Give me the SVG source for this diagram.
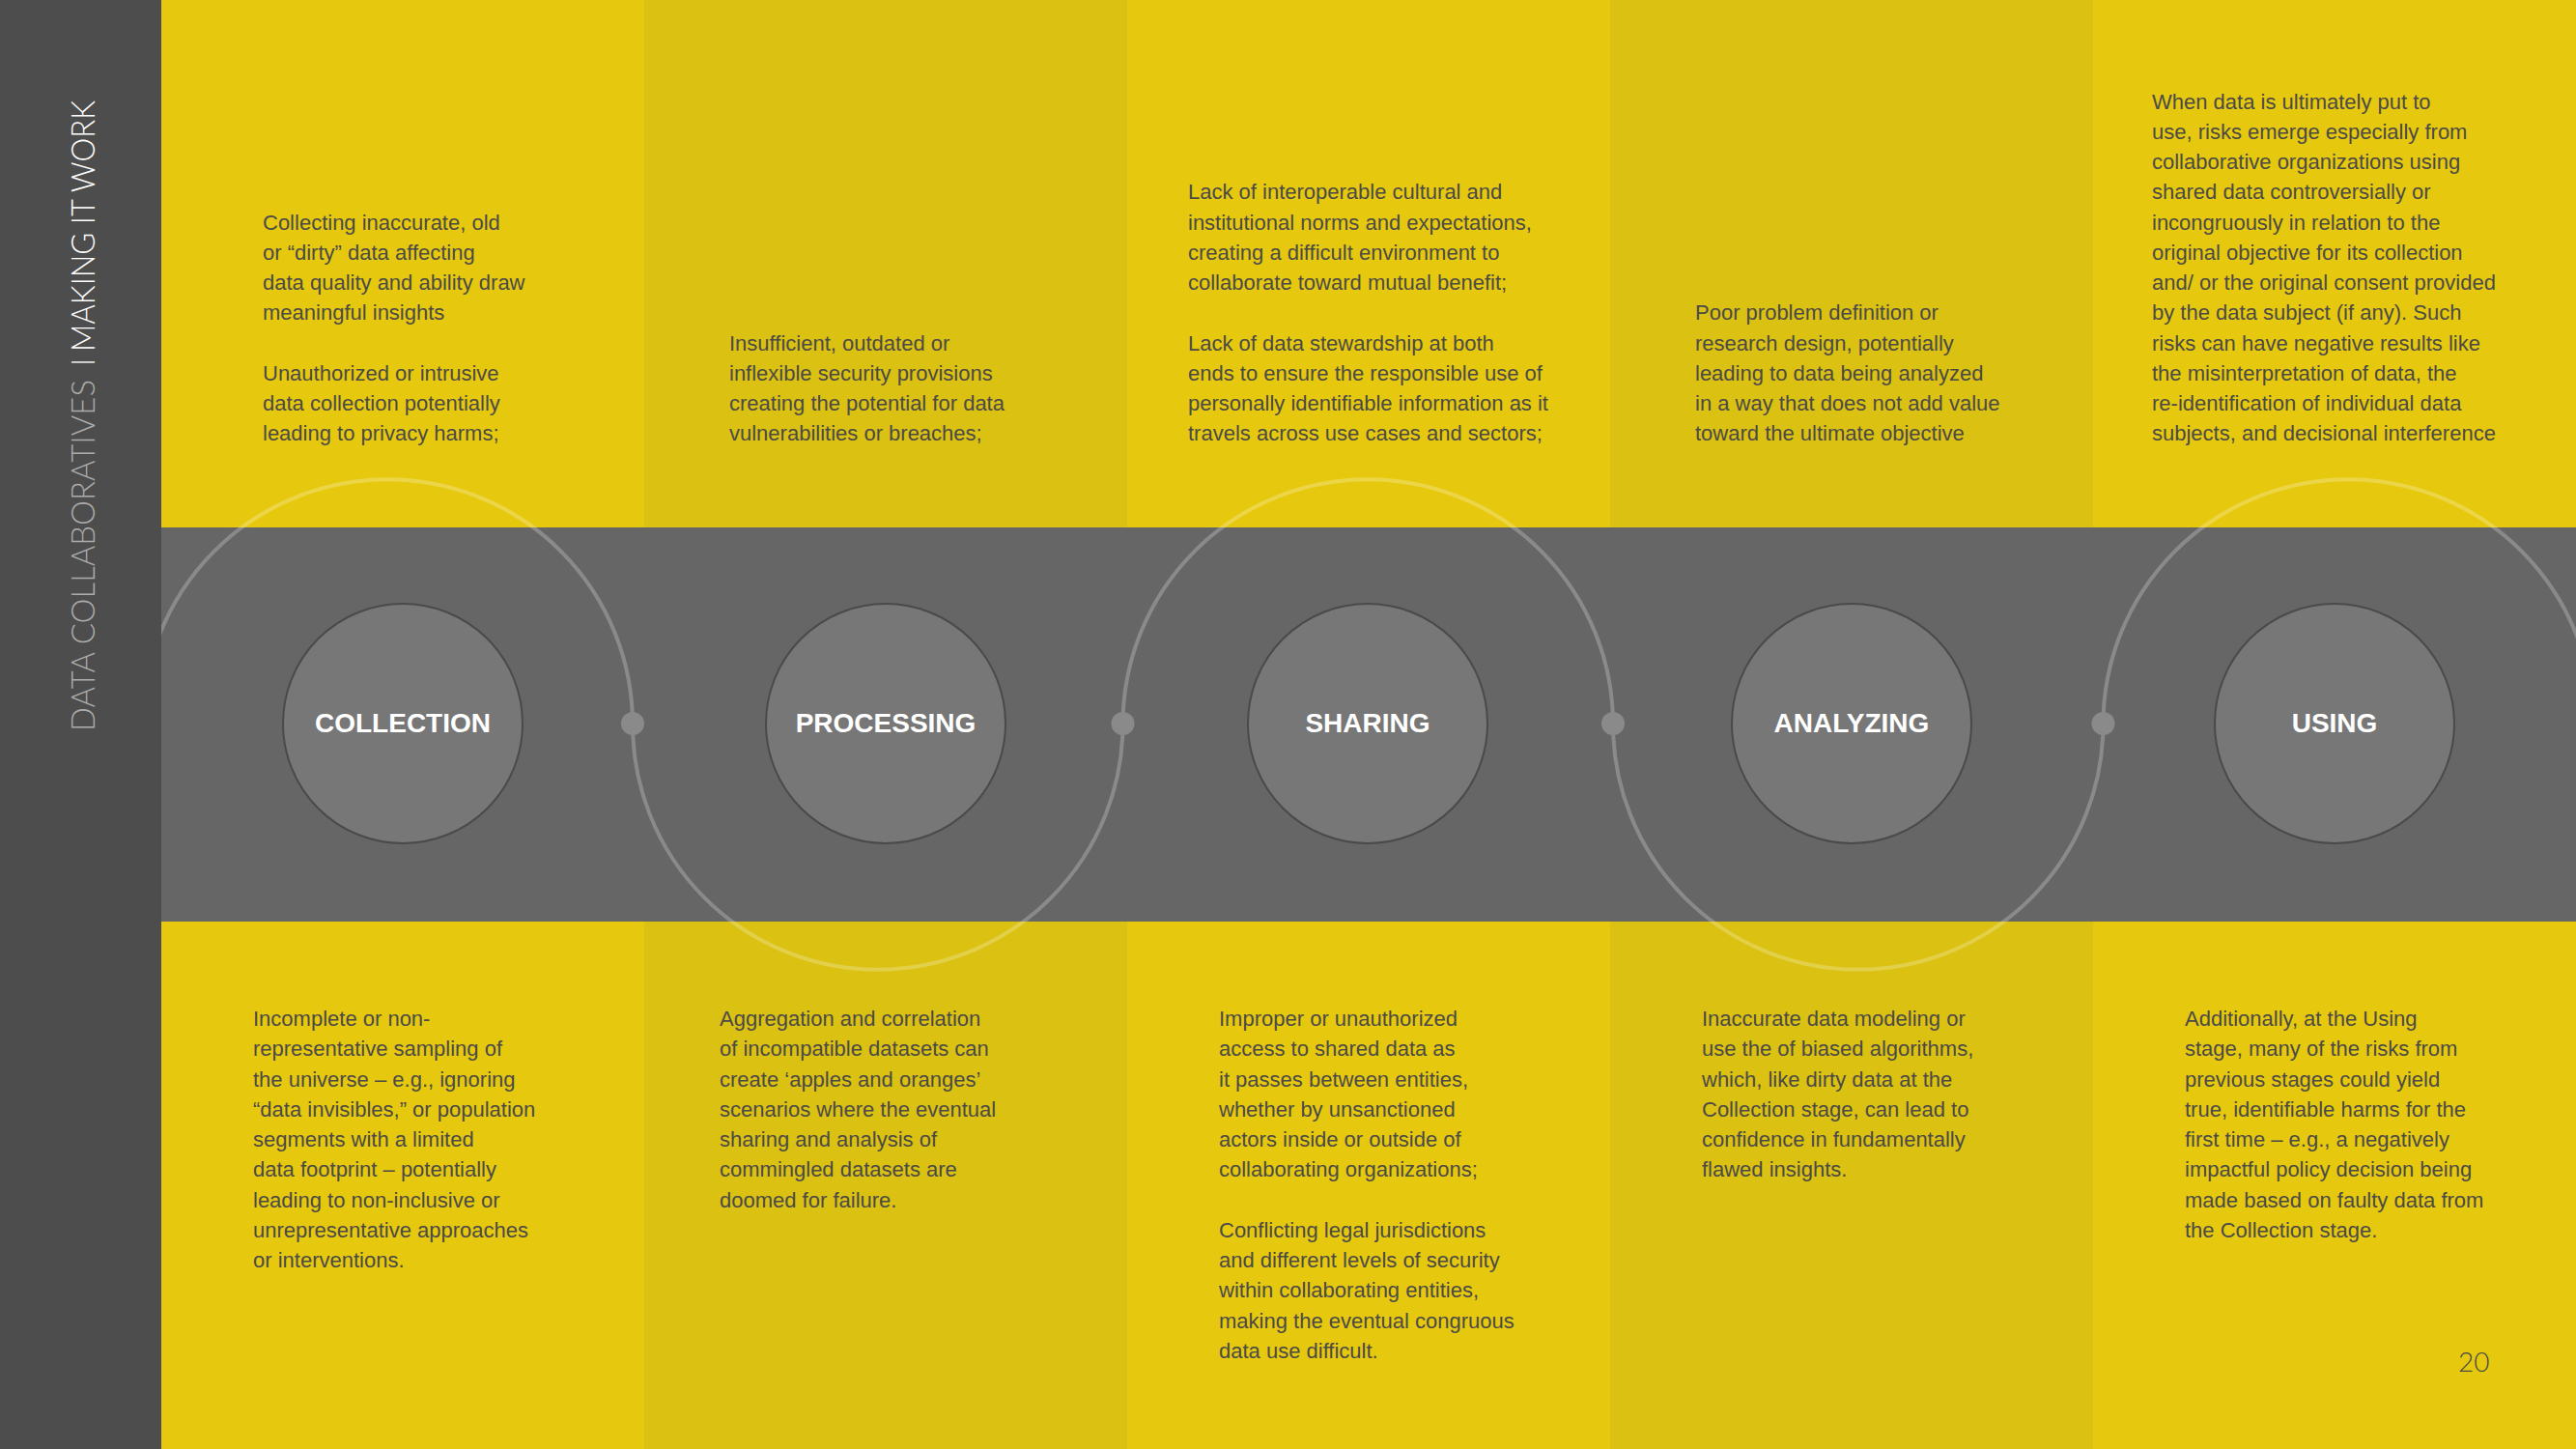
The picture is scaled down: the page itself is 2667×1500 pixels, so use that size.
<svg xmlns="http://www.w3.org/2000/svg" width="2667" height="1500" viewBox="0 0 2667 1500">
  <style>
    .col-light { fill: #e6c90e; }
    .col-dark { fill: #dbc111; }
    .band { fill: #666666; }
    .ring { fill: none; stroke: #ffffff; stroke-opacity: 0.24; stroke-width: 4; }
    .joint { fill: #8a8a8a; }
    .stage { fill: #777777; stroke: #4a4a4a; stroke-width: 2; }
    .stage-label { font-family: "Liberation Sans", Arial, sans-serif; font-weight: bold; font-size: 28px; fill: #ffffff; text-anchor: middle; }
    .note { font-family: "Liberation Sans", Arial, sans-serif; font-size: 22px; fill: #4c4a47; }
    .side { font-family: "Lato", "Liberation Sans", sans-serif; font-weight: 300; font-size: 33px; }
    .page { font-family: "Lato", "Liberation Sans", sans-serif; font-weight: 300; font-size: 28px; fill: #4c4a47; }
  </style>

  <!-- column backgrounds -->
  <g id="columns">
    <rect class="col-light" x="167" y="0" width="500" height="1500"/>
    <rect class="col-dark" x="667" y="0" width="500" height="1500"/>
    <rect class="col-light" x="1167" y="0" width="500" height="1500"/>
    <rect class="col-dark" x="1667" y="0" width="500" height="1500"/>
    <rect class="col-light" x="2167" y="0" width="500" height="1500"/>
  </g>

  <!-- grey process band -->
  <rect id="band" class="band" x="167" y="546" width="2500" height="408"/>

  <!-- wave of alternating half circles linking the stages, with joints -->
  <g id="connectors">
    <path class="ring" d="M 147.5 750 A 253.75 253.75 0 0 1 655 750 A 253.75 253.75 0 0 0 1162.5 750 A 253.75 253.75 0 0 1 1670 750 A 253.75 253.75 0 0 0 2177.5 750 A 253.75 253.75 0 0 1 2685 750"/>
    <circle class="joint" cx="655" cy="749" r="12"/>
    <circle class="joint" cx="1162.5" cy="749" r="12"/>
    <circle class="joint" cx="1670" cy="749" r="12"/>
    <circle class="joint" cx="2177.5" cy="749" r="12"/>
  </g>

  <!-- stage nodes -->
  <g id="node-collection">
    <circle class="stage" cx="417" cy="749" r="124"/>
    <text class="stage-label" x="417" y="758">COLLECTION</text>
  </g>
  <g id="node-processing">
    <circle class="stage" cx="917" cy="749" r="124"/>
    <text class="stage-label" x="917" y="758">PROCESSING</text>
  </g>
  <g id="node-sharing">
    <circle class="stage" cx="1416" cy="749" r="124"/>
    <text class="stage-label" x="1416" y="758">SHARING</text>
  </g>
  <g id="node-analyzing">
    <circle class="stage" cx="1917" cy="749" r="124"/>
    <text class="stage-label" x="1917" y="758">ANALYZING</text>
  </g>
  <g id="node-using">
    <circle class="stage" cx="2417" cy="749" r="124"/>
    <text class="stage-label" x="2417" y="758">USING</text>
  </g>

  <!-- risk notes above the band -->
  <g id="notes-top">
    <text class="note" x="272" y="237.5">
      <tspan x="272">Collecting inaccurate, old</tspan>
      <tspan x="272" dy="31.25">or “dirty” data affecting</tspan>
      <tspan x="272" dy="31.25">data quality and ability draw</tspan>
      <tspan x="272" dy="31.25">meaningful insights</tspan>
      <tspan x="272" dy="62.5">Unauthorized or intrusive</tspan>
      <tspan x="272" dy="31.25">data collection potentially</tspan>
      <tspan x="272" dy="31.25">leading to privacy harms;</tspan>
    </text>
    <text class="note" x="755" y="362.5">
      <tspan x="755">Insufficient, outdated or</tspan>
      <tspan x="755" dy="31.25">inflexible security provisions</tspan>
      <tspan x="755" dy="31.25">creating the potential for data</tspan>
      <tspan x="755" dy="31.25">vulnerabilities or breaches;</tspan>
    </text>
    <text class="note" x="1230" y="206.3">
      <tspan x="1230">Lack of interoperable cultural and</tspan>
      <tspan x="1230" dy="31.25">institutional norms and expectations,</tspan>
      <tspan x="1230" dy="31.25">creating a difficult environment to</tspan>
      <tspan x="1230" dy="31.25">collaborate toward mutual benefit;</tspan>
      <tspan x="1230" dy="62.5">Lack of data stewardship at both</tspan>
      <tspan x="1230" dy="31.25">ends to ensure the responsible use of</tspan>
      <tspan x="1230" dy="31.25">personally identifiable information as it</tspan>
      <tspan x="1230" dy="31.25">travels across use cases and sectors;</tspan>
    </text>
    <text class="note" x="1755" y="331.3">
      <tspan x="1755">Poor problem definition or</tspan>
      <tspan x="1755" dy="31.25">research design, potentially</tspan>
      <tspan x="1755" dy="31.25">leading to data being analyzed</tspan>
      <tspan x="1755" dy="31.25">in a way that does not add value</tspan>
      <tspan x="1755" dy="31.25">toward the ultimate objective</tspan>
    </text>
    <text class="note" x="2228" y="112.5">
      <tspan x="2228">When data is ultimately put to</tspan>
      <tspan x="2228" dy="31.25">use, risks emerge especially from</tspan>
      <tspan x="2228" dy="31.25">collaborative organizations using</tspan>
      <tspan x="2228" dy="31.25">shared data controversially or</tspan>
      <tspan x="2228" dy="31.25">incongruously in relation to the</tspan>
      <tspan x="2228" dy="31.25">original objective for its collection</tspan>
      <tspan x="2228" dy="31.25">and/ or the original consent provided</tspan>
      <tspan x="2228" dy="31.25">by the data subject (if any). Such</tspan>
      <tspan x="2228" dy="31.25">risks can have negative results like</tspan>
      <tspan x="2228" dy="31.25">the misinterpretation of data, the</tspan>
      <tspan x="2228" dy="31.25">re-identification of individual data</tspan>
      <tspan x="2228" dy="31.25">subjects, and decisional interference</tspan>
    </text>
  </g>

  <!-- risk notes below the band -->
  <g id="notes-bottom">
    <text class="note" x="262" y="1062">
      <tspan x="262">Incomplete or non-</tspan>
      <tspan x="262" dy="31.25">representative sampling of</tspan>
      <tspan x="262" dy="31.25">the universe – e.g., ignoring</tspan>
      <tspan x="262" dy="31.25">“data invisibles,” or population</tspan>
      <tspan x="262" dy="31.25">segments with a limited</tspan>
      <tspan x="262" dy="31.25">data footprint – potentially</tspan>
      <tspan x="262" dy="31.25">leading to non-inclusive or</tspan>
      <tspan x="262" dy="31.25">unrepresentative approaches</tspan>
      <tspan x="262" dy="31.25">or interventions.</tspan>
    </text>
    <text class="note" x="745" y="1062">
      <tspan x="745">Aggregation and correlation</tspan>
      <tspan x="745" dy="31.25">of incompatible datasets can</tspan>
      <tspan x="745" dy="31.25">create ‘apples and oranges’</tspan>
      <tspan x="745" dy="31.25">scenarios where the eventual</tspan>
      <tspan x="745" dy="31.25">sharing and analysis of</tspan>
      <tspan x="745" dy="31.25">commingled datasets are</tspan>
      <tspan x="745" dy="31.25">doomed for failure.</tspan>
    </text>
    <text class="note" x="1262" y="1062">
      <tspan x="1262">Improper or unauthorized</tspan>
      <tspan x="1262" dy="31.25">access to shared data as</tspan>
      <tspan x="1262" dy="31.25">it passes between entities,</tspan>
      <tspan x="1262" dy="31.25">whether by unsanctioned</tspan>
      <tspan x="1262" dy="31.25">actors inside or outside of</tspan>
      <tspan x="1262" dy="31.25">collaborating organizations;</tspan>
      <tspan x="1262" dy="62.5">Conflicting legal jurisdictions</tspan>
      <tspan x="1262" dy="31.25">and different levels of security</tspan>
      <tspan x="1262" dy="31.25">within collaborating entities,</tspan>
      <tspan x="1262" dy="31.25">making the eventual congruous</tspan>
      <tspan x="1262" dy="31.25">data use difficult.</tspan>
    </text>
    <text class="note" x="1762" y="1062">
      <tspan x="1762">Inaccurate data modeling or</tspan>
      <tspan x="1762" dy="31.25">use the of biased algorithms,</tspan>
      <tspan x="1762" dy="31.25">which, like dirty data at the</tspan>
      <tspan x="1762" dy="31.25">Collection stage, can lead to</tspan>
      <tspan x="1762" dy="31.25">confidence in fundamentally</tspan>
      <tspan x="1762" dy="31.25">flawed insights.</tspan>
    </text>
    <text class="note" x="2262" y="1062">
      <tspan x="2262">Additionally, at the Using</tspan>
      <tspan x="2262" dy="31.25">stage, many of the risks from</tspan>
      <tspan x="2262" dy="31.25">previous stages could yield</tspan>
      <tspan x="2262" dy="31.25">true, identifiable harms for the</tspan>
      <tspan x="2262" dy="31.25">first time – e.g., a negatively</tspan>
      <tspan x="2262" dy="31.25">impactful policy decision being</tspan>
      <tspan x="2262" dy="31.25">made based on faulty data from</tspan>
      <tspan x="2262" dy="31.25">the Collection stage.</tspan>
    </text>
  </g>

  <!-- page number -->
  <text class="page" x="2545" y="1420">20</text>

  <!-- dark sidebar with running title -->
  <g id="sidebar">
    <rect x="0" y="0" width="167" height="1500" fill="#4d4d4d"/>
    <g transform="translate(98 757) rotate(-90)">
      <text class="side" x="0" y="0" fill="#ababab" textLength="364" lengthAdjust="spacingAndGlyphs">DATA COLLABORATIVES</text>
      <text class="side" x="382" y="0" fill="#d9d9d9" text-anchor="middle">I</text>
      <text class="side" x="393" y="0" fill="#ffffff" textLength="260" lengthAdjust="spacingAndGlyphs">MAKING IT WORK</text>
    </g>
  </g>
</svg>
